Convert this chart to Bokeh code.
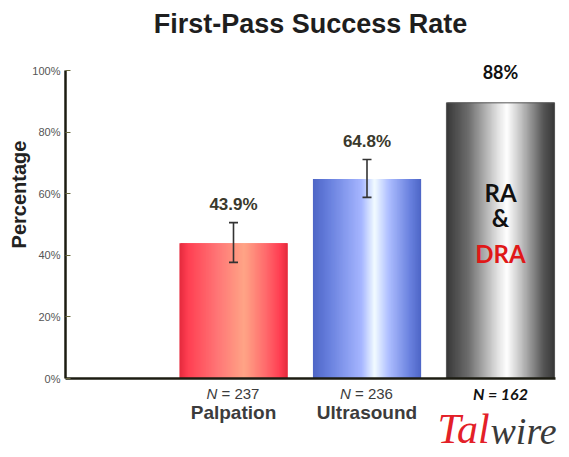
import numpy as np
from bokeh.plotting import figure
from bokeh.models import ColumnDataSource, Whisker, TeeHead, Label, Range1d, FixedTicker
from bokeh.embed import file_html
from bokeh.resources import INLINE

# ---- data ----
categories = ["Palpation", "Ultrasound", ""]
n_values = ["237", "236", "162"]
bar_x = [1, 2, 3]
bar_heights = [43.9, 64.8, 89.5]
value_labels = ["43.9%", "64.8%", "88%"]
err_low = [37.7, 58.8]
err_high = [50.6, 71.1]
y_ticks = [0, 20, 40, 60, 80, 100]
y_tick_labels = ["0%", "20%", "40%", "60%", "80%", "100%"]

# gradient stops (position across bar, colour)
stops = [
    [(0.0, "#e42a3c"), (0.08, "#ff3f52"), (0.35, "#ff7676"), (0.6, "#ffa486"), (0.8, "#ff6a6c"), (0.93, "#ff3e52"), (1.0, "#e42a3c")],
    [(0.0, "#4e66c6"), (0.15, "#6880de"), (0.45, "#a6b6ff"), (0.57, "#f2fbff"), (0.7, "#aebeff"), (0.9, "#6880de"), (1.0, "#4e66c6")],
    [(0.0, "#383838"), (0.2, "#6c6c6c"), (0.48, "#e4e4e4"), (0.56, "#ffffff"), (0.7, "#bdbdbd"), (0.9, "#545454"), (1.0, "#383838")],
]

BAR_W = 0.81
FONT = "Liberation Sans"
FONT2 = "Lato"
W, H = 565, 453


def xd(px):
    return 1 + (px - 233) / 133.5


def yd(py):
    return (378 - py) / 3.08


def hex2rgb(h):
    h = h.lstrip("#")
    return np.array([int(h[i:i + 2], 16) for i in (0, 2, 4)], dtype=float)


def interp_color(t, st):
    for (p0, c0), (p1, c1) in zip(st[:-1], st[1:]):
        if p0 <= t <= p1:
            f = 0 if p1 == p0 else (t - p0) / (p1 - p0)
            c = hex2rgb(c0) * (1 - f) + hex2rgb(c1) * f
            return "#%02x%02x%02x" % tuple(int(round(v)) for v in c)
    return st[-1][1]


p = figure(width=W, height=H, output_backend="svg", toolbar_location=None,
           x_range=Range1d(xd(0), xd(W)), y_range=Range1d(yd(H), yd(0)))
p.min_border = 0
p.outline_line_color = None
p.grid.visible = False
p.background_fill_color = "white"
p.border_fill_color = "white"

X0, X1 = xd(65), xd(555)

# gradient bars drawn as thin overlapping strips
n = 90
L, R, T, C = [], [], [], []
for cx, h, st in zip(bar_x, bar_heights, stops):
    edges = np.linspace(cx - BAR_W / 2, cx + BAR_W / 2, n + 1)
    for i in range(n):
        t = (i + 0.5) / n
        L.append(edges[i])
        R.append(min(edges[i + 1] + 0.012, cx + BAR_W / 2))
        T.append(h)
        C.append(interp_color(t, st))
p.quad(left=L, right=R, bottom=0, top=T, fill_color=C, line_color=None)
p.quad(left=[bar_x[2] - BAR_W / 2], right=[bar_x[2] + BAR_W / 2], bottom=[0], top=[bar_heights[2]],
       fill_color=None, line_color="#555555", line_width=1)

# error bars
esrc = ColumnDataSource(dict(x=bar_x[:2], lower=err_low, upper=err_high))
w = Whisker(source=esrc, base="x", lower="lower", upper="upper", line_color="#333333", line_width=1.6,
            upper_head=TeeHead(size=9, line_color="#333333", line_width=1.6),
            lower_head=TeeHead(size=9, line_color="#333333", line_width=1.6), level="overlay")
p.add_layout(w)

# axes placed at data locations inside the frame
p.yaxis.fixed_location = X0
p.yaxis.bounds = (0, 100)
p.yaxis.ticker = FixedTicker(ticks=y_ticks)
p.yaxis.major_label_overrides = {t: l for t, l in zip(y_ticks, y_tick_labels)}
p.yaxis.major_label_text_font = FONT
p.yaxis.major_label_text_font_size = "11px"
p.yaxis.major_label_text_color = "#555555"
p.yaxis.major_tick_in = 5
p.yaxis.major_tick_out = 0
p.yaxis.minor_tick_line_color = None
p.yaxis.axis_line_width = 2.5
p.yaxis.axis_line_color = "#1c1c12"
p.yaxis.major_tick_line_color = "#6a6a40"
p.yaxis.major_label_standoff = 5

p.xaxis.fixed_location = 0
p.xaxis.bounds = (X0, X1)
p.xaxis.ticker = FixedTicker(ticks=[])
p.xaxis.major_tick_line_color = None
p.xaxis.minor_tick_line_color = None
p.xaxis.major_label_text_font_size = "0px"
p.xaxis.axis_line_width = 2.5
p.xaxis.axis_line_color = "#1c1c12"

# title
p.add_layout(Label(x=xd(310), y=yd(23), text="First-Pass Success Rate", text_font=FONT,
                   text_font_style="bold", text_font_size="27px", text_color="#1e1e1e",
                   text_align="center", text_baseline="middle"))
# y label
p.add_layout(Label(x=xd(18), y=yd(194), text="Percentage", text_font=FONT, text_font_style="bold",
                   text_font_size="20px", text_color="#222222", angle=np.pi / 2,
                   text_align="center", text_baseline="middle"))

# value labels
for i in range(2):
    p.add_layout(Label(x=bar_x[i], y=err_high[i] + 6, text=value_labels[i], text_font=FONT,
                       text_font_style="bold", text_font_size="17px", text_color="#3a392c",
                       text_align="center", text_baseline="middle"))
p.add_layout(Label(x=bar_x[2], y=bar_heights[2] + 10, text=value_labels[2], text_font=FONT2,
                   text_font_style="bold", text_font_size="18px", text_color="#111111",
                   text_align="center", text_baseline="middle"))

# N and category labels
for i in range(2):
    p.add_layout(Label(x=bar_x[i], y=yd(392.5), x_offset=-27, text="N", text_font=FONT,
                       text_font_style="italic", text_font_size="15px", text_color="#3c3c3c",
                       text_align="left", text_baseline="middle"))
    p.add_layout(Label(x=bar_x[i], y=yd(392.5), x_offset=-12, text="= " + n_values[i], text_font=FONT,
                       text_font_size="15px", text_color="#3c3c3c",
                       text_align="left", text_baseline="middle"))
    p.add_layout(Label(x=bar_x[i], y=yd(412), text=categories[i], text_font=FONT, text_font_style="bold",
                       text_font_size="19px", text_color="#3c3c3c",
                       text_align="center", text_baseline="middle"))
p.add_layout(Label(x=bar_x[2], y=yd(392.5), text="N = " + n_values[2], text_font=FONT2,
                   text_font_style="bold italic", text_font_size="16px", text_color="#111111",
                   text_align="center", text_baseline="middle"))

# RA & DRA inside grey bar
for txt, py, col in [("RA", 192, "#111111"), ("&", 217, "#111111"), ("DRA", 253, "#e01818")]:
    p.add_layout(Label(x=bar_x[2], y=yd(py), text=txt, text_font=FONT2, text_font_style="bold",
                       text_font_size="24px", text_color=col,
                       text_align="center", text_baseline="middle"))

# logo
p.add_layout(Label(x=xd(437), y=yd(428), text="Tal", text_font="Liberation Serif", text_font_style="italic",
                   text_font_size="42px", text_color="#e32028", text_align="left", text_baseline="middle"))
p.add_layout(Label(x=xd(490), y=yd(430), text="wire", text_font="Liberation Serif", text_font_style="italic",
                   text_font_size="38px", text_color="#3a3a3a", text_align="left", text_baseline="middle"))

open("out.html", "w").write(file_html(p, INLINE))
